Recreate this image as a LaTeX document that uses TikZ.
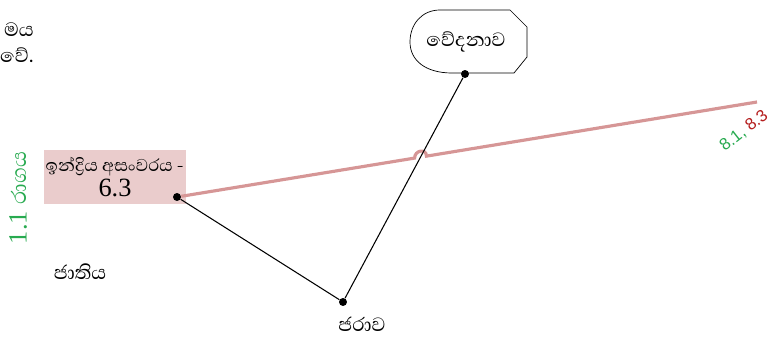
\documentclass[tikz,border=0pt]{standalone}
\usepackage{fontspec}
\setmainfont{Liberation Serif}
\newfontfamily\sinhala[Script=Sinhala]{Abhaya Libre}
\newfontfamily\sansnum{Liberation Sans}
\usetikzlibrary{calc,intersections,positioning}
\definecolor{boxpink}{RGB}{234,204,204}
\definecolor{linepink}{RGB}{214,150,150}
\definecolor{labelgreen}{RGB}{40,170,80}
\definecolor{labelred}{RGB}{180,30,30}

\begin{document}
\begin{tikzpicture}[x=0.02cm,y=-0.02cm,
  lbl/.style={font=\sinhala\fontsize{14}{16}\selectfont,inner sep=1pt},
  dot/.style={circle,fill=black,inner sep=0pt,minimum size=0.16cm},
  link/.style={black,line width=0.6pt},
  pinkline/.style={linepink,line width=1.8pt},
]
\useasboundingbox (0,0) rectangle (769,338);

% ---- Top-left text ----
\node[lbl,anchor=west] (topA) at (2,30) {මය};
\node[lbl,anchor=west] (topB) at (-2,55) {වේ.};

% ---- Left: box and labels ----
\node[fill=boxpink,minimum width=2.8cm,minimum height=1.1cm,align=center,inner sep=1pt,
      font=\sinhala\fontsize{12.5}{15}\selectfont] (indriya) at (115,177)
  {ඉන්ද්‍රිය අසංවරය -\\[-1pt]{\rmfamily\fontsize{15}{16}\selectfont 6.3}};
\node[rotate=90,text=labelgreen,font=\fontsize{15}{16}\selectfont] (raga) at (18,198)
  {1.1 {\sinhala රාගය}};
\node[lbl] (jati) at (80,272) {ජාතිය};

% ---- Vedana shape ----
\draw[thin] (440,10) -- (510,10) -- (527,27) -- (527,57) -- (514,73) -- (452,73)
  .. controls (425,73) and (410,60) .. (410,42)
  .. controls (410,24) and (422,10) .. (440,10);
\node[lbl] (vedana) at (466,42) {වේදනාව};

% ---- Dots ----
\node[dot] (dotIndriya) at (177,197) {};
\node[dot] (dotJara) at (343,302) {};
\node[dot] (dotVedana) at (465,74) {};
\node[lbl] (jara) at (362,324) {ජරාව};
\coordinate (pinkEnd) at (757,102);

% ---- Pink line with hop ----
\path[name path=pinkpath] (dotIndriya) -- (pinkEnd);
\path[name path=blackpath] (dotJara) -- (dotVedana);
\path[name intersections={of=pinkpath and blackpath,by=cross}];
\coordinate (hopL) at ($(cross)!0.12cm!(dotIndriya)$);
\coordinate (hopR) at ($(cross)!0.12cm!(pinkEnd)$);
\draw[pinkline] (dotIndriya) -- (hopL) .. controls +(0,-8) and +(0,-8) .. (hopR) -- (pinkEnd);
\node[rotate=38,font=\sansnum\fontsize{9.5}{11}\selectfont] (refs) at (744,131)
  {\textcolor{labelgreen}{8.1,} \textcolor{labelred}{8.3}};

% ---- Black links ----
\draw[link] (dotIndriya) -- (dotJara) -- (dotVedana);
\end{tikzpicture}
\end{document}
